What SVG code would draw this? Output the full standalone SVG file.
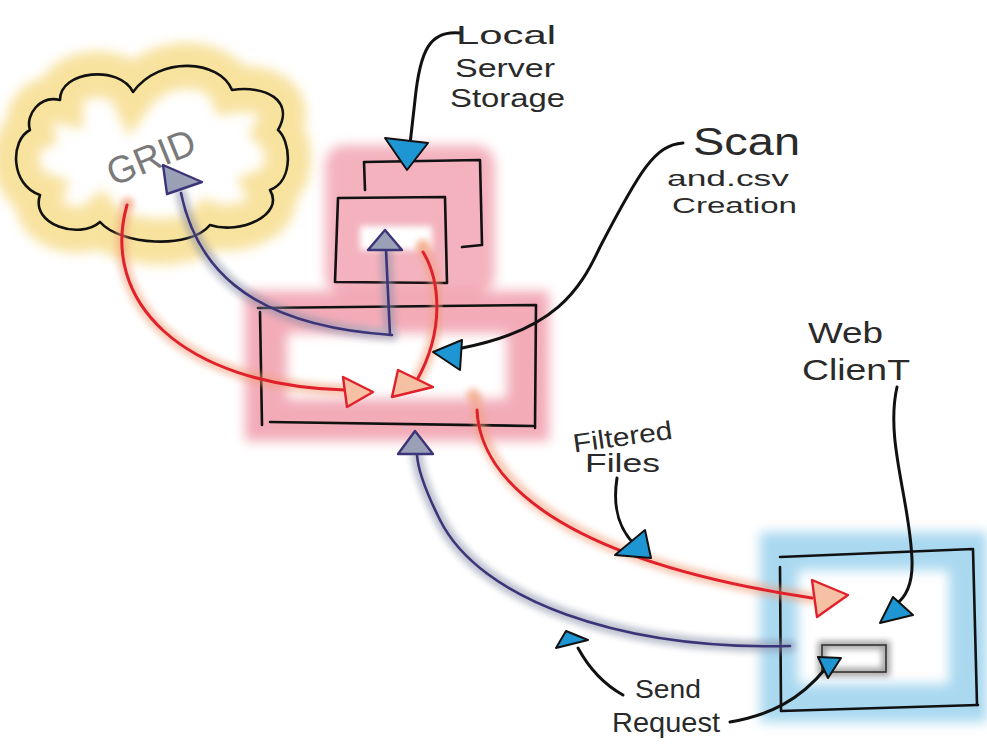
<svg xmlns="http://www.w3.org/2000/svg" width="987" height="744" viewBox="0 0 987 744">
<defs>
<filter id="blur" x="-30%" y="-30%" width="160%" height="160%"><feGaussianBlur stdDeviation="6"/></filter>
<filter id="soft" x="-30%" y="-30%" width="160%" height="160%"><feGaussianBlur stdDeviation="3"/></filter>
</defs>
<style>
.ink{fill:none;stroke:#111;stroke-width:2.6;stroke-linecap:round;stroke-linejoin:round}
.ptr{fill:none;stroke:#111;stroke-width:3;stroke-linecap:round}
.lbl{font-family:"Liberation Sans","DejaVu Sans",sans-serif;font-weight:normal;fill:#2a2a2a}
.blue{fill:#1f96d4;stroke:#111;stroke-width:2;stroke-linejoin:round}
.grayhead{fill:#9aa0b6;stroke:#3b3478;stroke-width:2.4;stroke-linejoin:round}
.redhead{fill:#f6c0a4;stroke:#e0202a;stroke-width:2.4;stroke-linejoin:round}
.red{fill:none;stroke:#e0202a;stroke-width:3;stroke-linecap:round}
.redglow{fill:none;stroke:#f2a07a;stroke-width:12;stroke-linecap:round;opacity:.55}
.purple{fill:none;stroke:#3b3478;stroke-width:2.6;stroke-linecap:round}
.purpglow{fill:none;stroke:#8a90a8;stroke-width:12;stroke-linecap:round;opacity:.55}
</style>
<rect width="987" height="744" fill="#fff"/>

<g id="grid">
<path d="M 30 130 C 10 140, 10 185, 40 195 C 30 225, 80 240, 100 222 C 120 245, 190 250, 210 225 C 240 235, 285 215, 270 190 C 295 180, 290 140, 278 130 C 295 100, 265 85, 232 90 C 220 60, 160 55, 133 92 C 120 65, 60 70, 60 100 C 40 95, 25 115, 30 130 Z" fill="none" stroke="#f3cf5e" stroke-width="46" opacity=".6" filter="url(#blur)"/>
<path d="M 30 130 C 10 140, 10 185, 40 195 C 30 225, 80 240, 100 222 C 120 245, 190 250, 210 225 C 240 235, 285 215, 270 190 C 295 180, 290 140, 278 130 C 295 100, 265 85, 232 90 C 220 60, 160 55, 133 92 C 120 65, 60 70, 60 100 C 40 95, 25 115, 30 130 Z" class="ink"/>
<text class="lbl" x="102" y="172" font-size="38" style="fill:#7a7a7a" transform="rotate(-22 145 150)" textLength="92" lengthAdjust="spacingAndGlyphs">GRID</text>
</g>

<g id="storage">
<rect x="325" y="145" width="170" height="150" rx="20" fill="#e8687e" opacity=".5" filter="url(#blur)"/>
<rect x="360" y="226" width="72" height="24" fill="#fff" filter="url(#soft)"/>
<path d="M 365 190 L 364 162 L 480 160 L 482 245 L 462 247" class="ink"/>
<path d="M 338 198 L 445 197 L 447 283 L 335 282 Z" class="ink"/>
</g>

<g id="scanner">
<rect x="266" y="312" width="262" height="108" fill="none" stroke="#e8687e" stroke-width="42" opacity=".55" filter="url(#blur)"/>
<path d="M 258 308 L 536 305 L 535 428" class="ink"/>
<path d="M 260 312 L 262 425" class="ink"/>
<path d="M 270 422 L 533 426" class="ink"/>
</g>

<g id="webclient">
<rect x="779" y="551" width="189" height="152" fill="none" stroke="#7cc4e8" stroke-width="38" opacity=".65" filter="url(#blur)"/>
<path d="M 780 557 L 973 549 L 977 705" class="ink"/>
<path d="M 780 567 L 781 711 L 978 705" class="ink"/>
<rect x="822" y="645" width="64" height="27" fill="none" stroke="#777" stroke-width="8" opacity=".7" filter="url(#soft)"/>
<rect x="822" y="645" width="64" height="27" fill="none" stroke="#333" stroke-width="1.6"/>
</g>

<g id="connectors">
<path d="M 127 205 C 100 300, 180 385, 345 390" class="redglow" filter="url(#soft)"/>
<path d="M 423 248 C 440 280, 445 330, 417 380" class="redglow" filter="url(#soft)"/>
<path d="M 476 400 C 480 480, 560 560, 812 598" class="redglow" filter="url(#soft)"/>
<path d="M 181 193 C 195 260, 240 325, 392 335 M 386 250 L 390 335" class="purpglow" filter="url(#soft)"/>
<path d="M 790 646 C 620 650, 480 600, 440 520 C 425 490, 418 470, 417 455" class="purpglow" filter="url(#soft)"/>
<circle cx="423" cy="246" r="7" fill="#f2a07a" opacity=".6" filter="url(#soft)"/>
<circle cx="473" cy="395" r="7" fill="#f2a07a" opacity=".6" filter="url(#soft)"/>
<circle cx="128" cy="203" r="6" fill="#f2a07a" opacity=".5" filter="url(#soft)"/>
<path d="M 127 205 C 100 300, 180 385, 345 390" class="red"/>
<path d="M 423 252 C 440 280, 445 330, 417 380" class="red" stroke-width="2.4"/>
<path d="M 477 410 C 480 480, 560 560, 812 598" class="red" stroke-width="4"/>
<path d="M 181 193 C 195 260, 240 325, 392 335 M 386 250 L 390 335" class="purple"/>
<path d="M 790 646 C 620 650, 480 600, 440 520 C 425 490, 418 470, 417 455" class="purple"/>
<path d="M 163 165 L 202 182 L 167 194 Z" class="grayhead"/>
<path d="M 385 230 L 402 250 L 368 250 Z" class="grayhead"/>
<path d="M 415 431 L 433 454 L 398 454 Z" class="grayhead"/>
<path d="M 343 377 L 373 392 L 347 407 Z" class="redhead"/>
<path d="M 398 370 L 433 387 L 392 397 Z" class="redhead"/>
<path d="M 812 580 L 848 595 L 817 617 Z" class="redhead"/>
<path d="M 460 33 C 430 30, 420 50, 415 100 L 408 162" class="ptr"/>
<path d="M 683 143 C 655 145, 640 170, 600 247 C 580 290, 555 330, 462 348" class="ptr"/>
<path d="M 617 478 C 612 510, 620 530, 635 545" class="ptr"/>
<path d="M 623 695 C 605 685, 590 670, 578 648" class="ptr"/>
<path d="M 730 722 C 770 715, 800 700, 826 668" class="ptr" stroke-width="2"/>
<path d="M 897 387 C 885 440, 910 500, 912 560 C 913 585, 905 598, 895 605" class="ptr"/>
<path d="M 385 138 L 428 143 L 407 170 Z" class="blue"/>
<path d="M 433 352 L 462 340 L 460 370 Z" class="blue"/>
<path d="M 615 555 L 645 530 L 651 558 Z" class="blue"/>
<path d="M 556 648 L 588 640 L 566 631 Z" class="blue"/>
<path d="M 880 623 L 893 597 L 913 615 Z" class="blue"/>
<path d="M 818 657 L 841 658 L 828 678 Z" class="blue"/>
</g>

<g id="labels">
<text class="lbl" x="456" y="44" font-size="26" textLength="100" lengthAdjust="spacingAndGlyphs">Local</text>
<text class="lbl" x="455" y="77" font-size="26" textLength="100" lengthAdjust="spacingAndGlyphs">Server</text>
<text class="lbl" x="450" y="107" font-size="26" textLength="115" lengthAdjust="spacingAndGlyphs">Storage</text>
<text class="lbl" x="693" y="155" font-size="38" textLength="107" lengthAdjust="spacingAndGlyphs">Scan</text>
<text class="lbl" x="667" y="186" font-size="22" textLength="122" lengthAdjust="spacingAndGlyphs">and.csv</text>
<text class="lbl" x="672" y="213" font-size="22" textLength="125" lengthAdjust="spacingAndGlyphs">Creation</text>
<text class="lbl" x="808" y="343" font-size="30" textLength="75" lengthAdjust="spacingAndGlyphs">Web</text>
<text class="lbl" x="802" y="380" font-size="30" textLength="108" lengthAdjust="spacingAndGlyphs">ClienT</text>
<text class="lbl" x="573" y="446" font-size="26" textLength="100" lengthAdjust="spacingAndGlyphs" transform="rotate(-8 620 440)">Filtered</text>
<text class="lbl" x="585" y="472" font-size="26" textLength="75" lengthAdjust="spacingAndGlyphs">Files</text>
<text class="lbl" x="635" y="698" font-size="26" textLength="66" lengthAdjust="spacingAndGlyphs">Send</text>
<text class="lbl" x="612" y="732" font-size="28" textLength="108" lengthAdjust="spacingAndGlyphs">Request</text>
</g>
</svg>
